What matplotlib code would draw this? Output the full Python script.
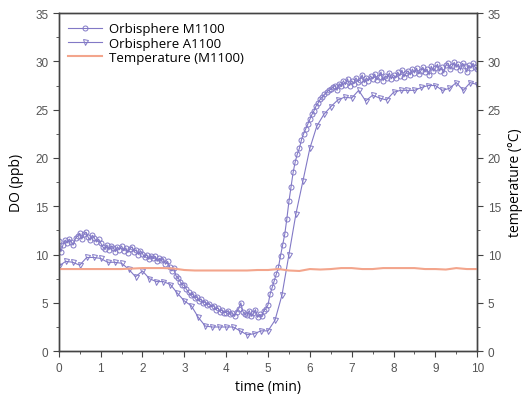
import numpy as np
import matplotlib
matplotlib.use("Agg")
import matplotlib.pyplot as plt
from matplotlib.ticker import MultipleLocator

# M1100 readings, one every 0.05 min
t_m1100 = np.linspace(0, 10, 201)
do_m1100 = [
    11.4, 10.3, 11.0, 11.5, 11.2, 11.6, 11.3, 11.0, 11.7, 11.9,
    12.2, 11.6, 12.1, 12.3, 11.8, 11.5, 12.0, 11.7, 11.3, 11.6,
    11.2, 10.8, 10.6, 11.0, 10.5, 10.9, 10.7, 10.3, 10.8, 10.5,
    10.9, 10.4, 10.7, 10.2, 10.6, 10.8, 10.3, 10.5, 10.0, 10.4,
    10.1, 9.7, 10.0, 9.5, 9.9, 9.6, 9.8, 9.3, 9.6, 9.4,
    9.5, 9.0, 9.3, 8.7, 8.3, 8.6, 7.8, 7.6, 7.2, 6.9,
    6.8, 6.4, 6.1, 5.8, 5.9, 5.5, 5.6, 5.2, 5.4, 5.0,
    5.1, 4.8, 4.9, 4.6, 4.7, 4.3, 4.5, 4.1, 4.3, 4.0,
    4.0, 4.2, 3.8, 3.9, 3.6, 4.1, 4.4, 5.0, 4.1, 3.8,
    3.7, 4.2, 3.6, 3.9, 4.3, 3.5, 3.8, 3.6, 4.2, 4.4,
    4.8, 5.9, 6.6, 7.3, 8.0, 8.7, 9.9, 11.0, 12.1, 13.7,
    15.5, 17.0, 18.5, 19.6, 20.4, 21.0, 21.9, 22.5, 23.0, 23.5,
    24.0, 24.5, 24.9, 25.4, 25.7, 26.1, 26.3, 26.6, 26.8, 27.0,
    27.1, 27.3, 27.5, 27.0, 27.7, 27.4, 28.0, 27.6, 28.2, 27.5,
    28.0, 27.7, 28.3, 27.9, 28.1, 28.6, 27.8, 28.3, 28.0, 28.5,
    28.2, 28.7, 28.1, 28.4, 28.9, 28.0, 28.5, 28.3, 28.8, 28.2,
    28.6, 28.3, 28.9, 28.5, 29.1, 28.4, 28.8, 29.0, 28.6, 29.2,
    28.8, 29.3, 28.7, 29.0, 29.4, 28.9, 29.2, 28.6, 29.5, 29.0,
    29.3, 29.7, 29.0, 29.4, 28.8, 29.6, 29.8, 29.2, 29.5, 29.9,
    29.4, 29.7, 29.1, 29.8, 29.5, 28.9, 29.6, 29.3, 29.8, 29.4,
    29.2,
]

# A1100 readings, one every 10 s
t_a1100 = np.linspace(0, 10, 61)
do_a1100 = [
    8.8, 9.3, 9.2, 8.9, 9.7, 9.7, 9.6, 9.2, 9.2, 9.1,
    8.5, 7.7, 8.3, 7.5, 7.2, 7.2, 6.9, 6.0, 5.2, 4.7,
    3.5, 2.6, 2.5, 2.5, 2.5, 2.5, 2.1, 1.7, 1.8, 2.1,
    2.1, 3.2, 5.8, 10.0, 14.2, 17.6, 21.0, 23.3, 24.5, 25.3,
    26.0, 26.3, 26.2, 27.0, 25.9, 26.5, 26.2, 26.0, 26.8, 27.0,
    27.0, 27.0, 27.3, 27.5, 27.5, 27.0, 27.2, 27.8, 27.0, 27.8,
    27.6,
]

# temperature of M1100, every 0.25 min
t_temp = np.linspace(0, 10, 41)
temp_m1100 = [
    8.5, 8.5, 8.5, 8.5, 8.5, 8.5, 8.5, 8.55, 8.6, 8.6,
    8.6, 8.55, 8.4, 8.35, 8.35, 8.35, 8.35, 8.35, 8.35, 8.4,
    8.4, 8.5, 8.35, 8.3, 8.5, 8.45, 8.5, 8.6, 8.6, 8.5,
    8.5, 8.6, 8.6, 8.6, 8.6, 8.5, 8.5, 8.45, 8.6, 8.5,
    8.5,
]

purple = '#8279c6'
salmon = '#f3a58c'
tick_col = '#555555'

plt.rcParams['font.family'] = ['Open Sans', 'DejaVu Sans']

fig = plt.figure(figsize=(5.25, 4.02), dpi=100)
ax = fig.add_axes([0.112, 0.124, 0.797, 0.841])
ax2 = ax.twinx()

l1, = ax.plot(t_m1100, do_m1100, '-o', color=purple, lw=0.8, ms=3.6,
              mfc='none', mew=0.7, label='Orbisphere M1100')
l2, = ax.plot(t_a1100, do_a1100, '-v', color=purple, lw=0.8, ms=3.6,
              mfc='none', mew=0.7, label='Orbisphere A1100')
l3, = ax2.plot(t_temp, temp_m1100, '-', color=salmon, lw=1.5,
               label='Temperature (M1100)')

for a in (ax, ax2):
    a.set_xlim(0, 10)
    a.set_ylim(0, 35)
    a.yaxis.set_major_locator(MultipleLocator(5))
    a.yaxis.set_minor_locator(MultipleLocator(2.5))
    for s in a.spines.values():
        s.set_color('#444444')
        s.set_linewidth(1.0)

ax.xaxis.set_major_locator(MultipleLocator(1))
ax.xaxis.set_minor_locator(MultipleLocator(0.5))
for a in (ax, ax2):
    a.tick_params(which='both', direction='out', colors='#444444',
                  labelcolor=tick_col, labelsize=8.5)
    a.tick_params(which='major', length=4)
    a.tick_params(which='minor', length=2.5)
for lab in ax.get_xticklabels() + ax.get_yticklabels() + ax2.get_yticklabels():
    lab.set_family(['Liberation Sans', 'DejaVu Sans'])

ax.set_xlabel('time (min)', fontsize=10, labelpad=4)
ax.set_ylabel('DO (ppb)', fontsize=10, labelpad=8)
ax2.set_ylabel('temperature (°C)', fontsize=10, labelpad=5)

ax.legend(handles=[l1, l2, l3], loc='upper left', frameon=False,
          fontsize=9.5, handlelength=2.6, labelspacing=0.1,
          borderaxespad=0.3, handletextpad=0.5)

fig.savefig('out.png', dpi=100)
